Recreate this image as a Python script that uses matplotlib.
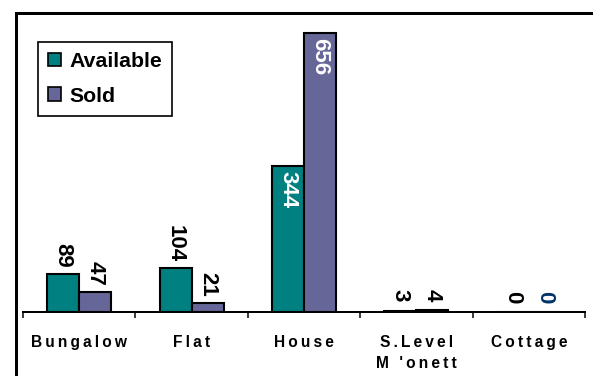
import matplotlib
matplotlib.use("Agg")
import matplotlib.pyplot as plt
from matplotlib.patches import Rectangle, Patch
import numpy as np

# Data
categories = ["Bungalow", "Flat", "House", "S.Level\nM 'onett", "Cottage"]
available = [89, 104, 344, 3, 0]
sold = [47, 21, 656, 4, 0]
series_names = ["Available", "Sold"]

TEAL = "#008080"
PURPLE = "#666699"
ZERO_SOLD_COLOR = "#003366"

W, H, DPI = 593, 376, 100
plt.rcParams['font.family'] = ['Liberation Sans', 'DejaVu Sans']
fig = plt.figure(figsize=(W / DPI, H / DPI), dpi=DPI)
fig.patch.set_facecolor("white")

PT = 72.0 / DPI  # points per pixel

# Plot area
ax = fig.add_axes([23 / W, (H - 312) / H, (585 - 23) / W, (312 - 20) / H])
ax.set_xlim(-0.5, 4.5)
ax.set_ylim(0, 686)

x = np.arange(len(categories))
bw = 0.285
bars_a = ax.bar(x - bw / 2, available, bw, color=TEAL, edgecolor="black",
                linewidth=1.5, zorder=2)
bars_s = ax.bar(x + bw / 2, sold, bw, color=PURPLE, edgecolor="black",
                linewidth=1.5, zorder=2)

label_font = dict(fontsize=16, fontweight="bold", rotation=-90,
                  ha="center", rotation_mode="default")


def add_labels(bars, values, zero_color="black"):
    for b, v in zip(bars, values):
        cx = b.get_x() + b.get_width() / 2
        if v > 300:
            ax.annotate(f"{v}", (cx, v), xytext=(0, -5 * PT),
                        textcoords="offset points", va="top", color="white",
                        **label_font)
        else:
            color = zero_color if v == 0 else "black"
            gap = 6 if v > 10 else 9
            ax.annotate(f"{v}", (cx, v), xytext=(0, gap * PT),
                        textcoords="offset points", va="bottom", color=color,
                        **label_font)


add_labels(bars_a, available)
add_labels(bars_s, sold, zero_color=ZERO_SOLD_COLOR)

# Axes styling
for side in ("left", "right", "top"):
    ax.spines[side].set_visible(False)
ax.spines["bottom"].set_linewidth(2 * PT)
ax.set_yticks([])


def spaced(s):
    return "\n".join("\u2009".join(line) for line in s.split("\n"))


ax.set_xticks(x)
ax.set_xticklabels([spaced(c) for c in categories], fontsize=11.2,
                   fontweight="bold", linespacing=1.5)
ax.tick_params(axis="x", which="major", length=0, pad=16.5)
ax.set_xticks(np.arange(-0.5, len(categories)), minor=True)
ax.tick_params(axis="x", which="minor", length=6 * PT, width=1.5 * PT,
               direction="out")

# Legend
handles = [Patch(facecolor=TEAL, edgecolor="black", linewidth=1.2),
           Patch(facecolor=PURPLE, edgecolor="black", linewidth=1.2)]
leg = ax.legend(handles, series_names, loc="upper left",
                bbox_to_anchor=(38 / W, 1 - 42 / H),
                bbox_transform=fig.transFigure, borderaxespad=0,
                frameon=True, fancybox=False, edgecolor="black",
                framealpha=1, handlelength=0.6, handleheight=0.6,
                handletextpad=0.38, labelspacing=0.72, borderpad=0.48,
                prop=dict(weight="bold", size=15.3))
leg.get_frame().set_linewidth(1.2)

# Outer chart border
fig.patches.append(Rectangle((15.5 / W, -0.1), 1.2, (H - 12.5) / H + 0.1,
                             transform=fig.transFigure, fill=False,
                             edgecolor="black", linewidth=3 * PT,
                             clip_on=False))

fig.savefig("out.png", dpi=DPI)
